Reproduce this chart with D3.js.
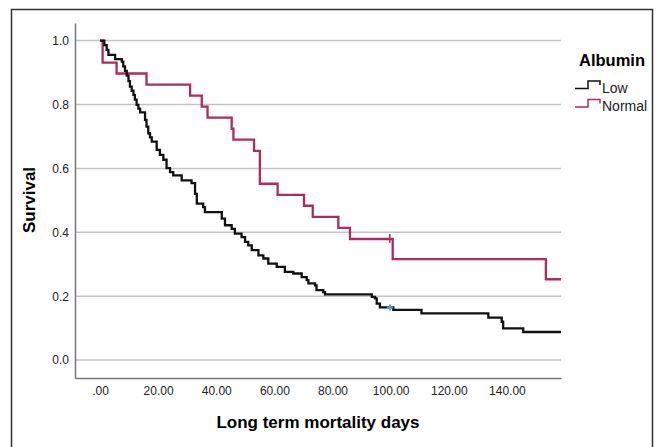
<!DOCTYPE html>
<html>
<head>
<meta charset="utf-8">
<script src="https://cdn.jsdelivr.net/npm/d3@7"></script>
<style>
    body { margin: 0; background: #fff; }
    text { font-family: "Liberation Sans", Arial, sans-serif; }
</style>
</head>
<body>
<script>
// Kaplan-Meier steps: day of drop, survival after it
var lowDays = [0, 1.5, 2.3, 2.9, 5.2, 7.5, 8.0, 8.6, 9.2, 9.8, 10.3, 10.9, 11.5, 12.0, 12.6, 13.2, 13.8,
    15.5, 16.0, 16.6, 17.2, 17.8, 19.5, 20.6, 21.8, 22.9, 24.1, 25.2, 28.1, 31.5, 32.7, 33.3, 35.5, 36.1,
    41.9, 43.0, 45.3, 46.4, 48.7, 49.9, 51.0, 52.2, 54.5, 56.2, 57.9, 60.8, 63.6, 66.5, 69.4, 71.1, 71.7,
    74.0, 74.5, 76.8, 77.4, 93.5, 94.6, 95.2, 96.3, 100.9, 110.6, 133.6, 138.2, 138.7, 145.6];
var lowSurv = [1.0, 0.986, 0.971, 0.955, 0.942, 0.934, 0.919, 0.905, 0.89, 0.873, 0.856, 0.843, 0.83, 0.815, 0.799, 0.787, 0.775,
    0.752, 0.731, 0.71, 0.697, 0.684, 0.658, 0.642, 0.627, 0.601, 0.588, 0.578, 0.5625, 0.554, 0.52, 0.49, 0.479, 0.463,
    0.443, 0.422, 0.411, 0.396, 0.385, 0.37, 0.359, 0.344, 0.328, 0.318, 0.302, 0.292, 0.276, 0.271, 0.26, 0.25, 0.24,
    0.234, 0.219, 0.213, 0.206, 0.198, 0.193, 0.177, 0.165, 0.157, 0.146, 0.133, 0.12, 0.099, 0.088];

var normalDays = [0, 0.9, 5.7, 16, 31, 35, 37, 45.3, 45.9, 53, 55, 61.1, 70.2, 73.2, 82, 86, 100.7, 153.4];
var normalSurv = [1.0, 0.931, 0.897, 0.862, 0.828, 0.793, 0.759, 0.724, 0.69, 0.655, 0.552, 0.517, 0.483, 0.448, 0.414, 0.379, 0.316, 0.253];

var lastDay = 158.6;
var lowCensor = [[99.8, 0.165]];
var normalCensor = [[99.7, 0.379]];

var yTicks = [0, 0.2, 0.4, 0.6, 0.8, 1.0];
var xTicks = [0, 20, 40, 60, 80, 100, 120, 140];
var groups = ["Low", "Normal"];

var w = 659, h = 447;
var lowColor = "#111", normalColor = "#b02a5e";

var svg = d3.select("body").append("svg")
    .attr("width", w)
    .attr("height", h);

// outer frame
svg.append("rect")
    .attr("x", 11.5).attr("y", 9.5)
    .attr("width", 641).attr("height", 460)
    .attr("fill", "none")
    .attr("stroke", "#333")
    .attr("stroke-width", 1.5);

var xScale = d3.scaleLinear()
    .domain([-8.6, lastDay])
    .range([75, 561]);

var yScale = d3.scaleLinear()
    .domain([-0.056, 1.055])
    .range([378, 23]);

// grid
svg.selectAll(".grid")
    .data(yTicks)
    .enter().append("line")
    .attr("class", "grid")
    .attr("x1", 75).attr("x2", 561)
    .attr("y1", function (d) { return yScale(d) })
    .attr("y2", function (d) { return yScale(d) })
    .attr("stroke", "#c4c4c4")
    .attr("stroke-width", 1.5);

var yAxis = d3.axisLeft(yScale)
    .tickValues(yTicks)
    .tickSize(0)
    .tickPadding(6)
    .tickFormat(d3.format(".1f"));

var yg = svg.append("g")
    .attr("transform", "translate(75,0)")
    .call(yAxis);

var xAxis = d3.axisBottom(xScale)
    .tickValues(xTicks)
    .tickSize(0)
    .tickPadding(8)
    .tickFormat(function (d) { return d3.format(".2f")(d).replace(/^0/, "") });

var xg = svg.append("g")
    .attr("transform", "translate(0,378)")
    .call(xAxis);

[yg, xg].forEach(function (g) {
    g.select(".domain").attr("stroke", "#777").attr("stroke-width", 1.5);
    g.selectAll("text").attr("font-size", 12).attr("fill", "#222")
        .style("font-family", "'Liberation Sans', Arial, sans-serif");
});

// curves
function steps(days, surv) {
    var pts = days.map(function (d, i) { return [d, surv[i]] });
    pts.push([lastDay, surv[surv.length - 1]]);
    return pts;
}

var line = d3.line()
    .x(function (d) { return xScale(d[0]) })
    .y(function (d) { return yScale(d[1]) })
    .curve(d3.curveStepAfter);

svg.append("path")
    .datum(steps(normalDays, normalSurv))
    .attr("d", line)
    .attr("fill", "none")
    .attr("stroke", normalColor)
    .attr("stroke-width", 2.3);

svg.append("path")
    .datum(steps(lowDays, lowSurv))
    .attr("d", line)
    .attr("fill", "none")
    .attr("stroke", lowColor)
    .attr("stroke-width", 2.3);

// censor marks
svg.selectAll(".cn")
    .data(normalCensor)
    .enter().append("line")
    .attr("x1", function (d) { return xScale(d[0]) })
    .attr("x2", function (d) { return xScale(d[0]) })
    .attr("y1", function (d) { return yScale(d[1]) - 5 })
    .attr("y2", function (d) { return yScale(d[1]) + 4 })
    .attr("stroke", normalColor)
    .attr("stroke-width", 1.5);

svg.selectAll(".cl")
    .data(lowCensor)
    .enter().append("path")
    .attr("d", function (d) {
        var cx = xScale(d[0]), cy = yScale(d[1]);
        return "M" + (cx - 3) + "," + cy + "H" + (cx + 3) + "M" + cx + "," + (cy - 3) + "V" + (cy + 3);
    })
    .attr("stroke", "#4a9fd8")
    .attr("stroke-width", 2);

// axis titles
svg.append("text")
    .attr("x", 318).attr("y", 428)
    .attr("text-anchor", "middle")
    .attr("font-size", 17)
    .attr("font-weight", "bold")
    .text("Long term mortality days");

svg.append("text")
    .attr("transform", "translate(35,200) rotate(-90)")
    .attr("text-anchor", "middle")
    .attr("font-size", 17)
    .attr("font-weight", "bold")
    .text("Survival");

// legend
svg.append("text")
    .attr("x", 579).attr("y", 66)
    .attr("font-size", 16.5)
    .attr("font-weight", "bold")
    .text("Albumin");

var leg = svg.selectAll(".leg")
    .data(groups)
    .enter().append("g")
    .attr("class", "leg")
    .attr("transform", function (d, i) { return "translate(0," + (i * 18.5) + ")" });

leg.append("path")
    .attr("d", "M575,88.5H588V81H600V85")
    .attr("fill", "none")
    .attr("stroke", function (d, i) { return i ? normalColor : lowColor })
    .attr("stroke-width", 1.5);

leg.append("text")
    .attr("x", 602).attr("y", 92.5)
    .attr("font-size", 14)
    .attr("fill", "#222")
    .text(function (d) { return d });
</script>
</body>
</html>
